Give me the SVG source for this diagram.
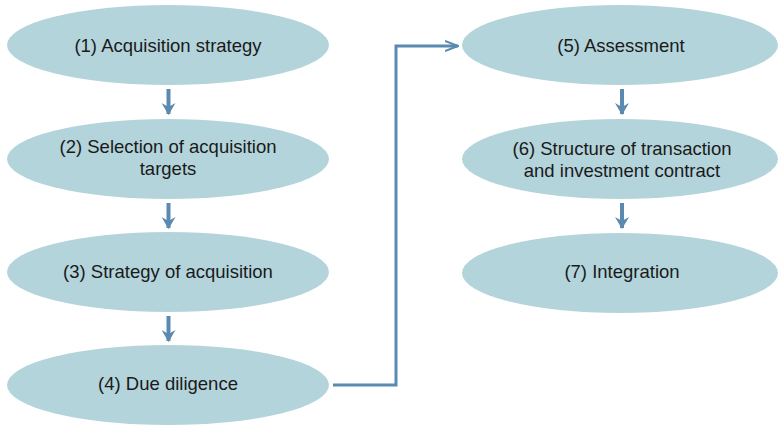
<svg xmlns="http://www.w3.org/2000/svg" width="778" height="425" viewBox="0 0 778 425">
<defs>
<style>
.n{fill:#b3d4da}
.t{font-family:"Liberation Sans",Arial,sans-serif;font-size:18.5px;fill:#1a1a1a;text-anchor:middle}
.c{stroke:#5a8aaf;fill:none}
.s{stroke-width:4}
</style>
<marker id="ah" viewBox="0 0 12 14" refX="11" refY="7" markerWidth="12" markerHeight="14" markerUnits="userSpaceOnUse" orient="auto">
<path d="M0,0 L12,7 L0,14 L4,7 Z" fill="#5a8aaf"/>
</marker>
<marker id="oh" viewBox="0 0 14 12" refX="13" refY="6" markerWidth="14" markerHeight="12" markerUnits="userSpaceOnUse" orient="auto">
<path d="M0,1 L13,6 L0,11" fill="none" stroke="#5a8aaf" stroke-width="2"/>
</marker>
</defs>
<rect width="778" height="425" fill="#ffffff"/>
<g id="n1"><ellipse class="n" cx="168" cy="45" rx="161" ry="40"/><text class="t" x="168" y="52">(1) Acquisition strategy</text></g>
<g id="n2"><ellipse class="n" cx="168" cy="159" rx="161" ry="40"/><text class="t" x="168" y="153">(2) Selection of acquisition</text><text class="t" x="168" y="175">targets</text></g>
<g id="n3"><ellipse class="n" cx="168" cy="272" rx="161" ry="40"/><text class="t" x="168" y="278">(3) Strategy of acquisition</text></g>
<g id="n4"><ellipse class="n" cx="168" cy="385" rx="161" ry="40"/><text class="t" x="168" y="390">(4) Due diligence</text></g>
<g id="n5"><ellipse class="n" cx="620" cy="45" rx="158" ry="40"/><text class="t" x="621" y="52">(5) Assessment</text></g>
<g id="n6"><ellipse class="n" cx="620" cy="159" rx="158" ry="40"/><text class="t" x="622" y="155">(6) Structure of transaction</text><text class="t" x="622" y="177">and investment contract</text></g>
<g id="n7"><ellipse class="n" cx="620" cy="273" rx="158" ry="40"/><text class="t" x="622" y="278">(7) Integration</text></g>
<g id="connectors">
<line class="c s" x1="168.5" y1="89" x2="168.5" y2="114" marker-end="url(#ah)"/>
<line class="c s" x1="168.5" y1="203" x2="168.5" y2="228" marker-end="url(#ah)"/>
<line class="c s" x1="168.5" y1="316" x2="168.5" y2="341" marker-end="url(#ah)"/>
<line class="c s" x1="622" y1="89" x2="622" y2="114" marker-end="url(#ah)"/>
<line class="c s" x1="622" y1="203" x2="622" y2="228" marker-end="url(#ah)"/>
<path class="c" stroke-width="3" d="M333,385 H396 V46 H458" marker-end="url(#oh)"/>
</g>
</svg>
